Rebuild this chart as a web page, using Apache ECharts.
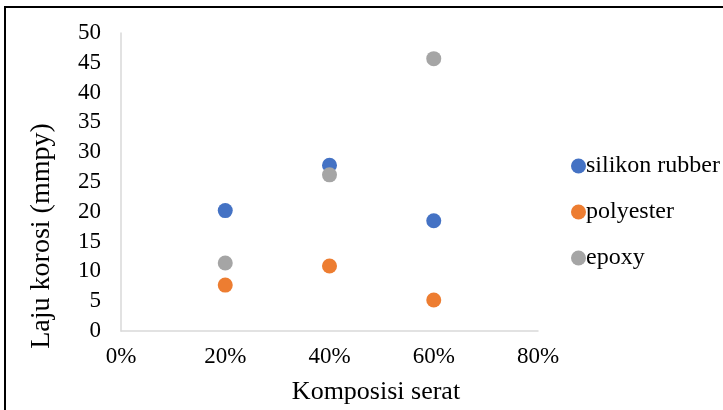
<!DOCTYPE html>
<html>
<head>
<meta charset="utf-8">
<script src="https://cdn.jsdelivr.net/npm/echarts@6/dist/echarts.min.js"></script>
<style>html,body{margin:0;padding:0;background:#fff;}#c{width:723px;height:410px;}</style>
</head>
<body>
<div id="c"></div>
<script>
const xValues = [0.2, 0.4, 0.6];
const silikonRubber = [20.2, 27.8, 18.5];
const polyester = [7.7, 10.9, 5.2];
const epoxy = [11.4, 26.2, 45.7];
const seriesNames = ['silikon rubber', 'polyester', 'epoxy'];
const xTitle = 'Komposisi serat';
const yTitle = 'Laju korosi (mmpy)';
const colors = ['#4472C4', '#ED7D31', '#A5A5A5'];
const FONT = '"Liberation Serif", "Times New Roman", serif';

function pairs(ys) { return xValues.map((x, i) => [x, ys[i]]); }

const chart = echarts.init(document.getElementById('c'));
chart.setOption({
  animation: false,
  textStyle: { fontFamily: FONT },
  grid: { left: 121, top: 33, right: 185, bottom: 79, containLabel: false },
  xAxis: {
    type: 'value', min: 0, max: 0.8, interval: 0.2,
    axisLine: { show: true, lineStyle: { color: '#d9d9d9', width: 1.5 } },
    axisTick: { show: false },
    splitLine: { show: false },
    axisLabel: { formatter: v => Math.round(v * 100) + '%', color: '#000', fontSize: 23, fontFamily: FONT, margin: 14 }
  },
  yAxis: {
    type: 'value', min: 0, max: 50, interval: 5,
    axisLine: { show: true, lineStyle: { color: '#d9d9d9', width: 1.5 } },
    axisTick: { show: false },
    splitLine: { show: false },
    axisLabel: { color: '#000', fontSize: 23, fontFamily: FONT, margin: 20 }
  },
  legend: {
    orient: 'vertical', left: 566, top: 149, itemGap: 22,
    icon: 'circle', itemWidth: 15, itemHeight: 15,
    textStyle: { color: '#000', fontSize: 24, fontFamily: FONT, padding: [0, 0, 0, -5] },
    data: seriesNames
  },
  graphic: [
    { type: 'rect', shape: { x: 5, y: 7, width: 800, height: 500 }, style: { fill: 'none', stroke: '#000', lineWidth: 2 }, silent: true },
    { type: 'text', x: 42, y: 236, rotation: Math.PI / 2,
      style: { text: yTitle, font: '28px ' + FONT, fill: '#000', textAlign: 'center', textVerticalAlign: 'middle' } },
    { type: 'text', x: 376, y: 392,
      style: { text: xTitle, font: '26px ' + FONT, fill: '#000', textAlign: 'center', textVerticalAlign: 'middle' } }
  ],
  series: [
    { name: seriesNames[0], type: 'scatter', data: pairs(silikonRubber), symbolSize: 15, itemStyle: { color: colors[0], opacity: 1 } },
    { name: seriesNames[1], type: 'scatter', data: pairs(polyester), symbolSize: 15, itemStyle: { color: colors[1], opacity: 1 } },
    { name: seriesNames[2], type: 'scatter', data: pairs(epoxy), symbolSize: 15, itemStyle: { color: colors[2], opacity: 1 } }
  ]
});
</script>
</body>
</html>
